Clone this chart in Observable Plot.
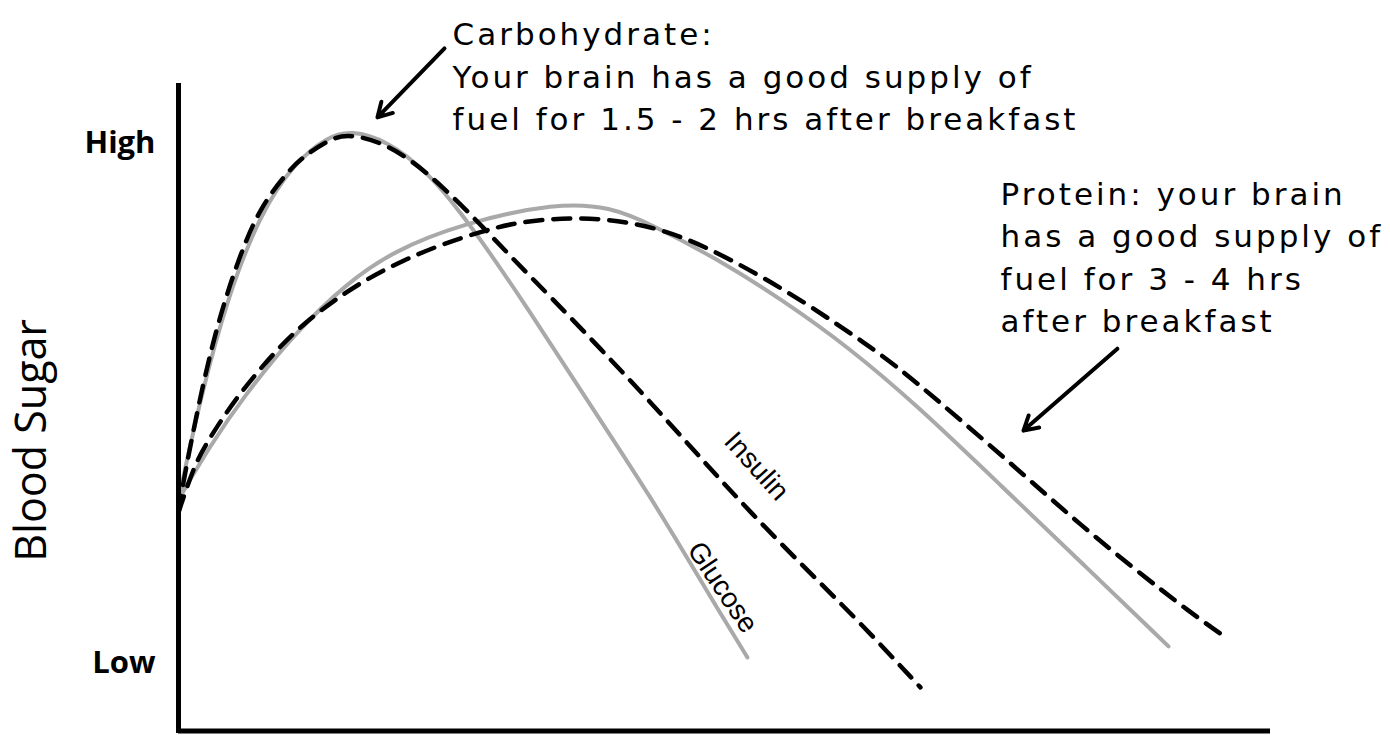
<!DOCTYPE html>
<html>
<head>
<meta charset="utf-8">
<script src="https://cdn.jsdelivr.net/npm/d3@7"></script>
<script src="https://cdn.jsdelivr.net/npm/@observablehq/plot@0.6"></script>
<style>
  html, body { margin: 0; padding: 0; background: #fff; }
  #chart svg { display: block; }
</style>
</head>
<body>
<div id="chart"></div>
<script>
// Time after breakfast (hours) and blood-sugar level (0 = bottom, Low = 10, High = 90)
const xDomain = [0, 5];
const yDomain = [-0.8, 99.2];
const levelTicks = [10, 90];
const levelLabels = ["Low", "High"];
const yTitle = "Blood Sugar";

// [hours, level]
const carbGlucose = [
  [0, 35.2], [0.101, 50.9], [0.224, 66.3], [0.375, 79.2], [0.527, 86.9], [0.682, 91.0],
  [0.788, 92.0], [0.957, 90.4], [1.140, 85.6], [1.291, 79.4], [1.442, 72.4], [1.598, 64.6],
  [1.749, 56.8], [1.932, 47.4], [2.161, 35.6], [2.344, 25.4], [2.468, 18.4], [2.605, 10.9]
];
const carbInsulin = [
  [0, 33.2], [0.023, 38.2], [0.114, 53.5], [0.192, 63.8], [0.284, 73.1], [0.375, 80.2],
  [0.499, 85.6], [0.572, 88.0], [0.710, 91.0], [0.788, 91.3], [0.911, 90.4], [1.062, 87.6],
  [1.213, 83.2], [1.369, 78.0], [1.520, 72.6], [1.703, 66.4], [1.932, 58.4], [2.161, 50.2],
  [2.390, 41.6], [2.619, 33.2], [2.894, 23.8], [3.123, 16.2], [3.397, 6.3]
];
const proteinGlucose = [
  [0, 35.2], [0.147, 43.6], [0.298, 51.0], [0.527, 60.6], [0.774, 68.6], [0.984, 73.4],
  [1.291, 77.6], [1.735, 80.9], [1.978, 80.2], [2.161, 77.6], [2.468, 72.2], [2.770, 65.8],
  [3.077, 58.4], [3.384, 49.6], [3.764, 37.4], [4.144, 25.2], [4.533, 12.6]
];
const proteinInsulin = [
  [0, 33.2], [0.069, 40.2], [0.133, 44.2], [0.270, 51.2], [0.453, 58.4], [0.572, 62.2],
  [0.710, 65.8], [0.865, 69.2], [1.030, 72.0], [1.200, 74.4], [1.383, 76.4], [1.520, 77.6],
  [1.690, 78.4], [1.932, 78.6], [2.239, 76.8], [2.541, 72.0], [2.848, 66.0], [3.155, 59.0],
  [3.306, 55.2], [3.457, 51.0], [3.810, 40.8], [4.084, 32.6], [4.373, 24.6], [4.634, 17.8],
  [4.794, 14.0]
];

// Annotations: anchor [hours, level], text
const notes = [
  {x: 1.255, y: 109.7, text: "Carbohydrate:\nYour brain has a good supply of\nfuel for 1.5 - 2 hrs after breakfast"},
  {x: 3.764, y: 85.2, text: "Protein: your brain\nhas a good supply of\nfuel for 3 - 4 hrs\nafter breakfast"}
];
const arrows = [
  {x1: 1.218, y1: 104.6, x2: 0.911, y2: 94.0},
  {x1: 4.299, y1: 58.4, x2: 3.869, y2: 45.8}
];
const curveLabels = [
  {x: 2.647, y: 40.3, text: "Insulin", angle: 48},
  {x: 2.491, y: 21.7, text: "Glucose", angle: 56}
];

const gray = "#a9a9a9";
const hand = "DejaVu Sans";

const chart = Plot.plot({
  width: 1390,
  height: 735,
  marginLeft: 178,
  marginRight: 120,
  marginTop: 83,
  marginBottom: 2,
  x: {domain: xDomain, axis: null},
  y: {domain: yDomain, axis: null},
  marks: [
    Plot.line(carbGlucose, {x: d => d[0], y: d => d[1], curve: "basis", stroke: gray, strokeWidth: 4}),
    Plot.line(proteinGlucose, {x: d => d[0], y: d => d[1], curve: "basis", stroke: gray, strokeWidth: 4}),
    Plot.line(carbInsulin, {x: d => d[0], y: d => d[1], curve: "basis", stroke: "#000", strokeWidth: 4.5, strokeDasharray: "17,11"}),
    Plot.line(proteinInsulin, {x: d => d[0], y: d => d[1], curve: "basis", stroke: "#000", strokeWidth: 4.5, strokeDasharray: "17,11"}),
    Plot.ruleX([xDomain[0]], {stroke: "#000", strokeWidth: 5}),
    Plot.ruleY([yDomain[0]], {stroke: "#000", strokeWidth: 5, dy: -2.5}),
    Plot.text(levelTicks, {x: xDomain[0], y: d => d, text: (d, i) => levelLabels[i], textAnchor: "end", dx: -23,
      fontSize: 31, fontWeight: "bold", fontFamily: "Open Sans", fill: "#000"}),
    Plot.text([yTitle], {frameAnchor: "left", y: 44.3, text: d => d, rotate: -90, dx: -146, textAnchor: "middle",
      fontSize: 43, fontFamily: "Open Sans", fill: "#000"}),
    Plot.text(notes, {x: "x", y: "y", text: "text", textAnchor: "start", lineAnchor: "top", lineHeight: 1.37,
      fontSize: 31, fontFamily: hand, fill: "#000"}),
    Plot.arrow(arrows, {x1: "x1", y1: "y1", x2: "x2", y2: "y2", stroke: "#000", strokeWidth: 4, headLength: 6}),
    Plot.text(curveLabels, {x: "x", y: "y", text: "text", rotate: "angle", fontSize: 28,
      fontFamily: "Liberation Sans", fill: "#000"})
  ]
});
document.getElementById("chart").appendChild(chart);
d3.select(chart).selectAll("g[font-family='DejaVu Sans'] text").style("letter-spacing", "3px");
</script>
</body>
</html>
